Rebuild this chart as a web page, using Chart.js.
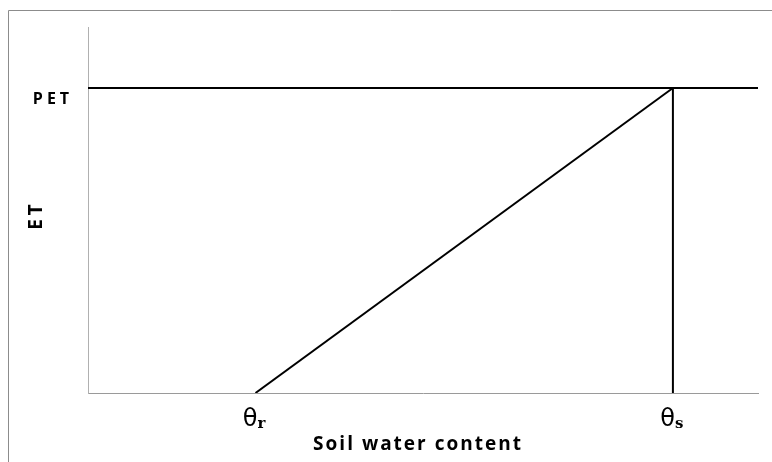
<!DOCTYPE html>
<html>
<head>
<meta charset="utf-8">
<script src="https://cdn.jsdelivr.net/npm/chart.js@4.4.0/dist/chart.umd.min.js"></script>
<style>
  html, body { margin: 0; padding: 0; background: #fff; }
  #wrap { width: 772px; height: 462px; }
</style>
</head>
<body>
<div id="wrap"><canvas id="myChart" width="772" height="462"></canvas></div>
<script>
// soil water content positions (axis runs 0..1)
const thetaR = 0.25;
const thetaS = 0.873;
const petLevel = 1.0;

// tick labels
const xTickValues = [thetaR, thetaS];
const xTickSubs = ['r', 's'];
const yTickLabel = 'PET';

// the three line pieces of the ET curve
const petLineX = [0, 1];
const petLineY = [petLevel, petLevel];
const rampX = [thetaR, thetaS];
const rampY = [0, petLevel];
const capX = [thetaS, thetaS];
const capY = [0, petLevel];

const toPoints = (xs, ys) => xs.map((x, i) => ({ x: x, y: ys[i] }));

// labels drawn against the chart's own scales
const labelPlugin = {
  id: 'labels',
  afterDraw(c) {
    const ctx = c.ctx;
    const xs = c.scales.x, ys = c.scales.y;
    ctx.save();

    // outer frame
    ctx.strokeStyle = '#8c8c8c';
    ctx.lineWidth = 1;
    ctx.beginPath();
    ctx.moveTo(8.5, 470);
    ctx.lineTo(8.5, 10.5);
    ctx.lineTo(780, 10.5);
    ctx.stroke();

    ctx.fillStyle = '#000';
    ctx.textBaseline = 'alphabetic';

    // theta ticks
    xTickValues.forEach((v, i) => {
      const px = xs.getPixelForValue(v);
      ctx.font = '24px "DejaVu Sans"';
      ctx.letterSpacing = '0px';
      ctx.textAlign = 'right';
      ctx.fillText('θ', px + 2, 426);
      ctx.font = 'bold 15px "DejaVu Serif"';
      ctx.textAlign = 'left';
      ctx.fillText(xTickSubs[i], px + 2, 428);
    });

    // PET tick
    ctx.font = 'bold 16px "Open Sans"';
    ctx.letterSpacing = '4px';
    ctx.textAlign = 'center';
    ctx.textBaseline = 'middle';
    ctx.fillText(yTickLabel, 53, ys.getPixelForValue(petLevel) + 11);

    // x title
    ctx.font = 'bold 19px "Open Sans"';
    ctx.letterSpacing = '2px';
    ctx.fillText('Soil water content', 418, 445);

    // y title
    ctx.translate(37, 217);
    ctx.rotate(-Math.PI / 2);
    ctx.font = 'bold 19px "Open Sans"';
    ctx.letterSpacing = '4px';
    ctx.fillText('ET', 2, 0);
    ctx.restore();
  }
};

const lineStyle = {
  borderColor: '#000',
  borderWidth: 2,
  pointRadius: 0,
  showLine: true,
  fill: false,
  tension: 0
};

let chart = new Chart(document.getElementById('myChart').getContext('2d'), {
  type: 'scatter',
  data: {
    datasets: [
      Object.assign({ label: 'PET', data: toPoints(petLineX, petLineY) }, lineStyle),
      Object.assign({ label: 'ramp', data: toPoints(rampX, rampY) }, lineStyle),
      Object.assign({ label: 'saturated', data: toPoints(capX, capY) }, lineStyle)
    ]
  },
  options: {
    responsive: false,
    animation: false,
    layout: { padding: { left: 80, right: 14, top: 27, bottom: 61 } },
    plugins: { legend: { display: false }, tooltip: { enabled: false } },
    scales: {
      x: {
        type: 'linear',
        min: 0,
        max: 1,
        grid: { display: false },
        border: { display: true, color: '#9a9a9a', width: 1 },
        ticks: { display: false }
      },
      y: {
        type: 'linear',
        min: 0,
        max: 1.2,
        grid: { display: false },
        border: { display: true, color: '#b0b0b0', width: 1 },
        ticks: { display: false }
      }
    }
  },
  plugins: [labelPlugin]
});
</script>
</body>
</html>
